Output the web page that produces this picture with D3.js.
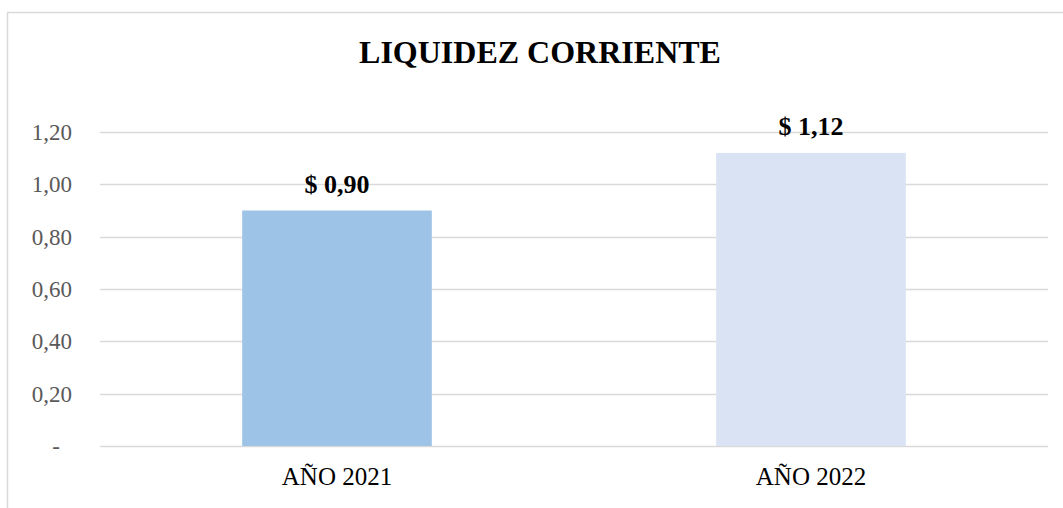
<!DOCTYPE html>
<html>
<head>
<meta charset="utf-8">
<script src="https://cdn.jsdelivr.net/npm/d3@7"></script>
<style>
  html, body { margin: 0; padding: 0; background: #fff; }
  svg { display: block; }
  text { font-family: "Liberation Serif", "Times New Roman", serif; }
</style>
</head>
<body>
<svg id="chart" width="1063" height="508"></svg>
<script>
const title = "LIQUIDEZ CORRIENTE";
const categories = ["AÑO 2021", "AÑO 2022"];
const values = [0.90, 1.12];
const dataLabels = ["$ 0,90", "$ 1,12"];
const tickValues = [0, 0.2, 0.4, 0.6, 0.8, 1.0, 1.2];
const tickLabels = ["-", "0,20", "0,40", "0,60", "0,80", "1,00", "1,20"];
const barColors = ["#9DC3E6", "#DAE3F3"];

const svg = d3.select("#chart");
const plot = { left: 100, right: 1048, top: 132, bottom: 446 };

// outer frame (extends beyond picture on right & bottom)
svg.append("rect")
  .attr("x", 7.5).attr("y", 12.5)
  .attr("width", 1200).attr("height", 700)
  .attr("fill", "#fff").attr("stroke", "#D9D9D9").attr("stroke-width", 1.5);

const x = d3.scaleBand()
  .domain(categories)
  .range([plot.left, plot.right])
  .paddingInner(0.6).paddingOuter(0.3);

const y = d3.scaleLinear().domain([0, 1.2]).range([plot.bottom, plot.top]);

// gridlines
svg.append("g").selectAll("line").data(tickValues).join("line")
  .attr("x1", plot.left).attr("x2", plot.right)
  .attr("y1", d => Math.round(y(d)) + 0.5).attr("y2", d => Math.round(y(d)) + 0.5)
  .attr("stroke", "#D9D9D9").attr("stroke-width", 1.3);

// y tick labels
svg.append("g").selectAll("text").data(tickValues).join("text")
  .attr("x", (d, i) => i === 0 ? 60 : 72)
  .attr("y", d => y(d) + 8)
  .attr("text-anchor", "end")
  .attr("font-size", 23)
  .attr("fill", "#595959")
  .text((d, i) => tickLabels[i]);

// bars
svg.append("g").selectAll("rect").data(values).join("rect")
  .attr("x", (d, i) => x(categories[i]))
  .attr("width", x.bandwidth())
  .attr("y", d => y(d))
  .attr("height", d => y(0) - y(d))
  .attr("fill", (d, i) => barColors[i]);

// data labels
svg.append("g").selectAll("text").data(values).join("text")
  .attr("x", (d, i) => x(categories[i]) + x.bandwidth() / 2)
  .attr("y", d => y(d) - 18)
  .attr("text-anchor", "middle")
  .attr("font-size", 26)
  .attr("font-weight", "bold")
  .attr("fill", "#000")
  .text((d, i) => dataLabels[i]);

// category labels
svg.append("g").selectAll("text").data(categories).join("text")
  .attr("x", d => x(d) + x.bandwidth() / 2)
  .attr("y", 485)
  .attr("text-anchor", "middle")
  .attr("font-size", 25)
  .attr("fill", "#000")
  .text(d => d);

// title
svg.append("text")
  .attr("x", 540).attr("y", 63)
  .attr("text-anchor", "middle")
  .attr("font-size", 32)
  .attr("font-weight", "bold")
  .attr("fill", "#000")
  .text(title);
</script>
</body>
</html>
